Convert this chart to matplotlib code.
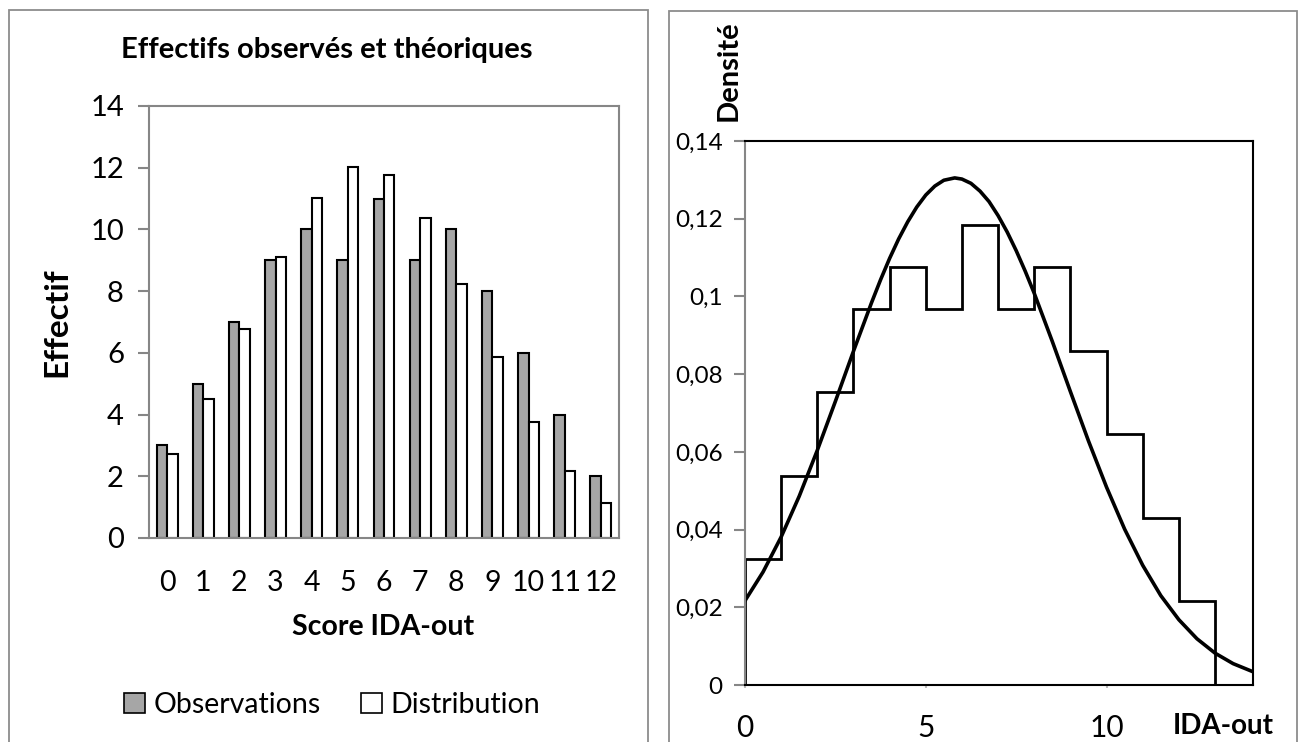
import numpy as np
import matplotlib
matplotlib.use("Agg")
import matplotlib.pyplot as plt
from matplotlib.patches import Rectangle, Patch

plt.rcParams['font.family'] = ['Lato', 'DejaVu Sans']

# left panel: observed and theoretical counts
scores = [0, 1, 2, 3, 4, 5, 6, 7, 8, 9, 10, 11, 12]
observations = [3, 5, 7, 9, 10, 9, 11, 9, 10, 8, 6, 4, 2]
distribution = [2.72, 4.52, 6.77, 9.12, 11.03, 12.02, 11.78, 10.38, 8.22, 5.86, 3.76, 2.17, 1.13]

# right panel: density histogram (bins of width 1) and fitted curve
bin_edges = [0, 1, 2, 3, 4, 5, 6, 7, 8, 9, 10, 11, 12, 13]
density = [0.0323, 0.0538, 0.0753, 0.0968, 0.1075, 0.0968, 0.1183,
           0.0968, 0.1075, 0.0860, 0.0645, 0.0430, 0.0215]
curve_x = [0, 0.5, 1, 1.5, 2, 2.5, 3, 3.5, 3.75, 4, 4.25, 4.5, 4.75, 5, 5.25,
           5.5, 5.8, 6, 6.25, 6.5, 6.75, 7, 7.25, 7.5, 7.75, 8, 8.5, 9, 9.5,
           10, 10.5, 11, 11.5, 12, 12.5, 13, 13.5, 14]
curve_y = [0.0217, 0.0291, 0.0381, 0.0486, 0.0604, 0.0730, 0.0859, 0.0984,
           0.1043, 0.1098, 0.1148, 0.1192, 0.1230, 0.1261, 0.1284, 0.1299,
           0.1305, 0.1302, 0.1291, 0.1271, 0.1244, 0.1208, 0.1166, 0.1118,
           0.1065, 0.1008, 0.0884, 0.0755, 0.0628, 0.0509, 0.0401, 0.0308,
           0.0230, 0.0168, 0.0119, 0.0082, 0.0055, 0.0036]
dens_ticks = [0, 0.02, 0.04, 0.06, 0.08, 0.1, 0.12, 0.14]
dens_labels = ['0', '0,02', '0,04', '0,06', '0,08', '0,1', '0,12', '0,14']

W, H = 1299, 742
fig = plt.figure(figsize=(W / 100, H / 100), dpi=100)

def fx(x):
    return x / W

def fy(y):
    return 1 - y / H

border = '#8c8c8c'
axgrey = '#868686'

# panel frames
fig.patches.append(Rectangle((fx(9), fy(760)), fx(648) - fx(9), fy(10) - fy(760),
                             transform=fig.transFigure, fill=False, ec=border, lw=1.3))
fig.patches.append(Rectangle((fx(669), fy(760)), fx(1297) - fx(669), fy(11) - fy(760),
                             transform=fig.transFigure, fill=False, ec=border, lw=1.3))

# ---- left panel
ax1 = fig.add_axes([fx(149), fy(538), fx(619) - fx(149), fy(106) - fy(538)])
x = np.arange(len(scores))
w = 0.29
ax1.bar(x - w / 2, observations, w, color='#a6a6a6', edgecolor='black', linewidth=1.5,
        label='Observations')
ax1.bar(x + w / 2, distribution, w, color='white', edgecolor='black', linewidth=1.5,
        label='Distribution')
ax1.set_xlim(-0.5, 12.5)
ax1.set_ylim(0, 14)
ax1.set_yticks(range(0, 15, 2))
ax1.set_xticks(x)
ax1.set_xticklabels([str(s) for s in scores])
for s in ax1.spines.values():
    s.set_color(axgrey)
    s.set_linewidth(1.5)
ax1.tick_params(axis='y', direction='out', length=8, width=1.5, color=axgrey,
                labelsize=21, pad=10)
ax1.tick_params(axis='x', length=0, labelsize=20.5, pad=23)

fig.text(fx(327), fy(50), 'Effectifs observés et théoriques', ha='center', va='center',
         fontsize=21, fontweight='bold')
fig.text(fx(57), fy(322), 'Effectif', ha='center', va='center', rotation=90,
         fontsize=24, fontweight='bold')
fig.text(fx(383), fy(627), 'Score IDA-out', ha='center', va='center',
         fontsize=20.5, fontweight='bold')
handles = [Patch(facecolor='#a6a6a6', edgecolor='black', lw=1.2, label='Observations'),
           Patch(facecolor='white', edgecolor='black', lw=1.2, label='Distribution')]
fig.legend(handles=handles, loc='center', bbox_to_anchor=(fx(332), fy(705)), ncol=2,
           frameon=False, fontsize=20.5, handlelength=0.75, handleheight=0.75,
           handletextpad=0.3, columnspacing=1.4)

# ---- right panel
ax2 = fig.add_axes([fx(745), fy(685), fx(1253) - fx(745), fy(141) - fy(685)])
ax2.stairs(density, bin_edges, color='black', linewidth=2, baseline=0)
ax2.plot(curve_x, curve_y, color='black', linewidth=2.6, solid_joinstyle='round')
ax2.set_xlim(0, 14.05)
ax2.set_ylim(0, 0.14)
ax2.set_yticks(dens_ticks)
ax2.set_yticklabels(dens_labels)
ax2.set_xticks([0, 5, 10])
ax2.set_xticklabels(['0', '5', '10'])
for k in ['top', 'right', 'bottom']:
    ax2.spines[k].set_color('black')
    ax2.spines[k].set_linewidth(1.5)
ax2.spines['left'].set_color(axgrey)
ax2.spines['left'].set_linewidth(1.5)
ax2.tick_params(axis='y', direction='out', length=8, width=1.5, color=axgrey,
                labelsize=17.5, pad=8)
ax2.tick_params(axis='x', direction='out', length=2, width=1.5, color='#bbbbbb',
                labelsize=21.5, pad=19)

fig.text(fx(729), fy(71), 'Densité', ha='center', va='center', rotation=90,
         fontsize=21, fontweight='bold')
fig.text(fx(1223), fy(726), 'IDA-out', ha='center', va='center',
         fontsize=20, fontweight='bold')

fig.savefig('out.png', dpi=100)
